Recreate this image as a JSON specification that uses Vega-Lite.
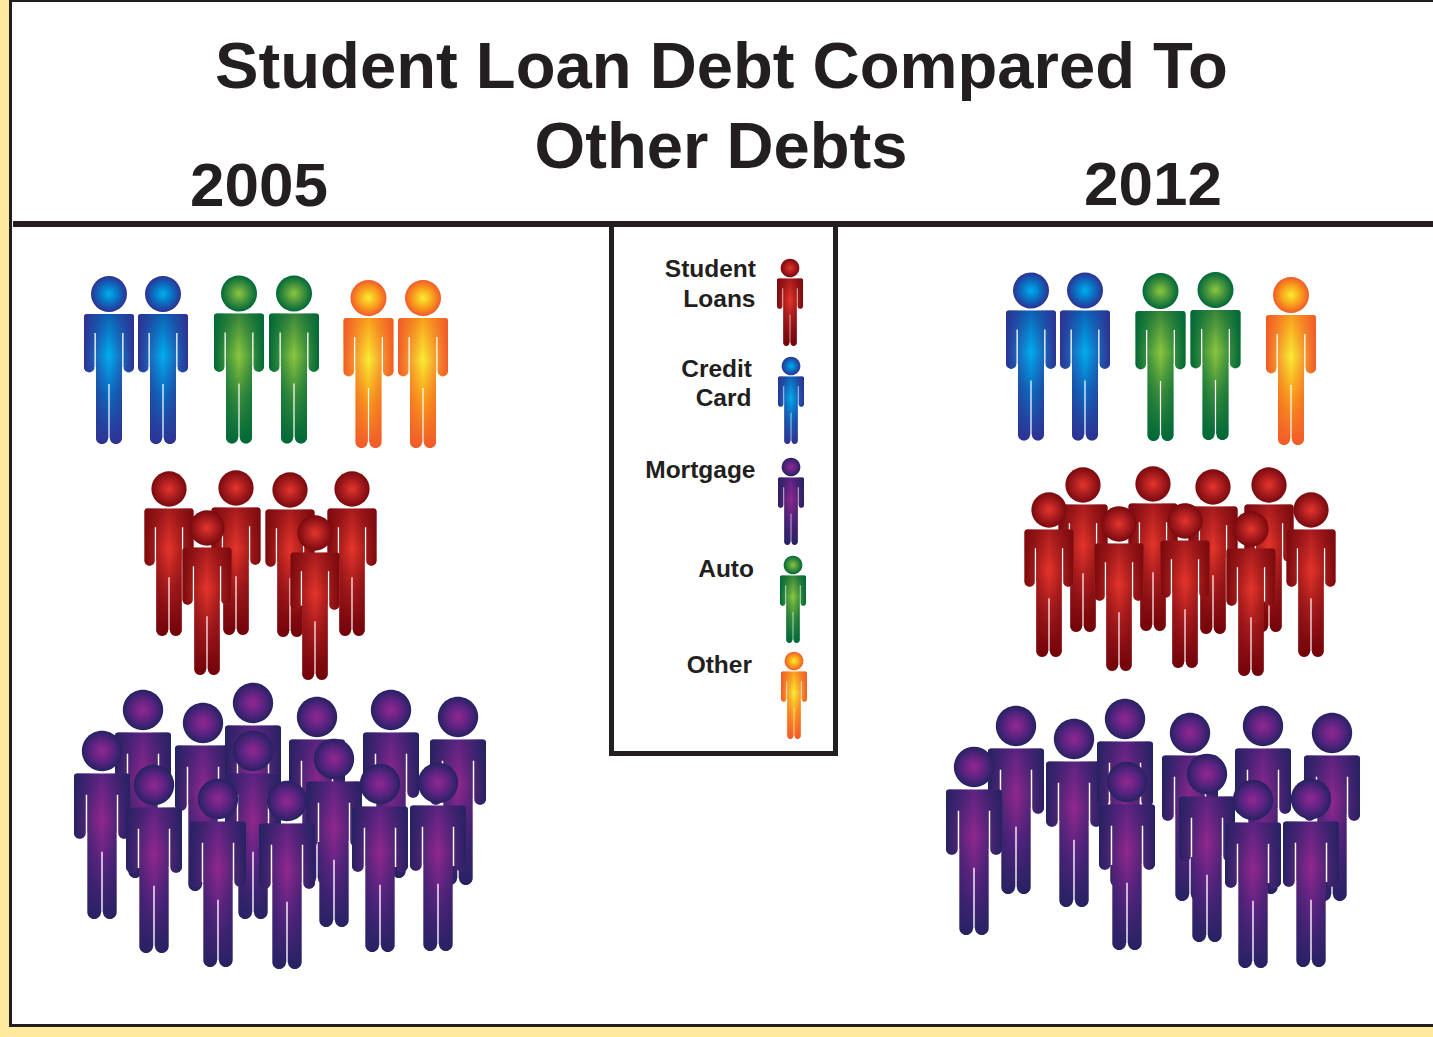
{
  "$schema": "https://vega.github.io/schema/vega-lite/v6.json",
  "width": 1433,
  "height": 1037,
  "padding": 0,
  "autosize": {"type": "fit", "contains": "padding"},
  "background": "#FFEA9F",
  "view": {"stroke": null},
  "encoding": {
    "x": {"field": "x", "type": "quantitative", "axis": null, "scale": {"domain": [0, 1433], "nice": false, "zero": false}},
    "y": {"field": "y", "type": "quantitative", "axis": null, "scale": {"domain": [1037, 0], "nice": false, "zero": false}}
  },
  "layer": [
    {
      "data": {"values": [{"x": 11, "x2": 1433, "y": 1, "y2": 1025}]},
      "mark": {"type": "rect", "fill": "#ffffff"},
      "encoding": {"x2": {"field": "x2"}, "y2": {"field": "y2"}}
    },
    {
      "data": {"values": [
        {"name": "frame left", "x": 9, "x2": 12, "y": 0, "y2": 1027},
        {"name": "frame top", "x": 9, "x2": 1433, "y": 0, "y2": 2},
        {"name": "frame bottom", "x": 9, "x2": 1433, "y": 1024, "y2": 1027},
        {"name": "divider", "x": 13, "x2": 1433, "y": 221, "y2": 227},
        {"name": "key left", "x": 609, "x2": 614, "y": 224, "y2": 756},
        {"name": "key right", "x": 833, "x2": 838, "y": 224, "y2": 756},
        {"name": "key bottom", "x": 609, "x2": 838, "y": 751, "y2": 756}
      ]},
      "mark": {"type": "rect", "fill": "#231F20"},
      "encoding": {"x2": {"field": "x2"}, "y2": {"field": "y2"}}
    },
    {
      "data": {"values": [
        {"x": 721.5, "y": 88, "label": "Student Loan Debt Compared To"},
        {"x": 721, "y": 168, "label": "Other Debts"}
      ]},
      "mark": {"type": "text", "font": "Liberation Sans", "fontWeight": "bold", "fontSize": 65.2, "align": "center", "baseline": "alphabetic", "fill": "#231F20"},
      "encoding": {"text": {"field": "label"}}
    },
    {
      "data": {"values": [
        {"x": 259, "y": 205.5, "label": "2005"},
        {"x": 1153, "y": 204.5, "label": "2012"}
      ]},
      "mark": {"type": "text", "font": "Liberation Sans", "fontWeight": "bold", "fontSize": 62, "align": "center", "baseline": "alphabetic", "fill": "#231F20"},
      "encoding": {"text": {"field": "label"}}
    },
    {
      "data": {"values": [
        {"x": 756, "y": 277, "label": "Student"},
        {"x": 755.5, "y": 307, "label": "Loans"},
        {"x": 752, "y": 377, "label": "Credit"},
        {"x": 751.5, "y": 406, "label": "Card"},
        {"x": 755.5, "y": 478, "label": "Mortgage"},
        {"x": 754, "y": 577, "label": "Auto"},
        {"x": 752, "y": 673, "label": "Other"}
      ]},
      "mark": {"type": "text", "font": "Liberation Sans", "fontWeight": "bold", "fontSize": 24.5, "align": "right", "baseline": "alphabetic", "fill": "#231F20"},
      "encoding": {"text": {"field": "label"}}
    },
    {
      "data": {"values": [
        {"year": "2005", "debt": "Credit Card", "x": 109, "y": 294, "part": ["body", "shade", "gap", "head"]},
        {"year": "2005", "debt": "Credit Card", "x": 163, "y": 294, "part": ["body", "shade", "gap", "head"]},
        {"year": "2005", "debt": "Auto", "x": 239, "y": 293.5, "part": ["body", "shade", "gap", "head"]},
        {"year": "2005", "debt": "Auto", "x": 294, "y": 293.5, "part": ["body", "shade", "gap", "head"]},
        {"year": "2005", "debt": "Other", "x": 368.5, "y": 298, "part": ["body", "shade", "gap", "head"]},
        {"year": "2005", "debt": "Other", "x": 423, "y": 298, "part": ["body", "shade", "gap", "head"]},

        {"year": "2005", "debt": "Student Loans", "x": 169, "y": 489, "part": ["body", "shade", "gap", "head"]},
        {"year": "2005", "debt": "Student Loans", "x": 236, "y": 488, "part": ["body", "shade", "gap", "head"]},
        {"year": "2005", "debt": "Student Loans", "x": 290, "y": 490, "part": ["body", "shade", "gap", "head"]},
        {"year": "2005", "debt": "Student Loans", "x": 352, "y": 489, "part": ["body", "shade", "gap", "head"]},
        {"year": "2005", "debt": "Student Loans", "x": 207, "y": 528, "part": ["body", "shade", "gap", "head"]},
        {"year": "2005", "debt": "Student Loans", "x": 315, "y": 533, "part": ["body", "shade", "gap", "head"]},

        {"year": "2005", "debt": "Mortgage", "x": 143, "y": 710, "part": ["body", "shade", "gap", "head"]},
        {"year": "2005", "debt": "Mortgage", "x": 203, "y": 723, "part": ["body", "shade", "gap", "head"]},
        {"year": "2005", "debt": "Mortgage", "x": 253, "y": 703, "part": ["body", "shade", "gap", "head"]},
        {"year": "2005", "debt": "Mortgage", "x": 317, "y": 717, "part": ["body", "shade", "gap", "head"]},
        {"year": "2005", "debt": "Mortgage", "x": 391, "y": 710, "part": ["body", "shade", "gap", "head"]},
        {"year": "2005", "debt": "Mortgage", "x": 458, "y": 717, "part": ["body", "shade", "gap", "head"]},
        {"year": "2005", "debt": "Mortgage", "x": 102, "y": 751, "part": ["body", "shade", "gap", "head"]},
        {"year": "2005", "debt": "Mortgage", "x": 253, "y": 751, "part": ["body", "shade", "gap", "head"]},
        {"year": "2005", "debt": "Mortgage", "x": 334, "y": 759, "part": ["body", "shade", "gap", "head"]},
        {"year": "2005", "debt": "Mortgage", "x": 154, "y": 785, "part": ["body", "shade", "gap", "head"]},
        {"year": "2005", "debt": "Mortgage", "x": 218, "y": 799, "part": ["body", "shade", "gap", "head"]},
        {"year": "2005", "debt": "Mortgage", "x": 287, "y": 801, "part": ["body", "shade", "gap", "head"]},
        {"year": "2005", "debt": "Mortgage", "x": 380, "y": 784, "part": ["body", "shade", "gap", "head"]},
        {"year": "2005", "debt": "Mortgage", "x": 438, "y": 783, "part": ["body", "shade", "gap", "head"]},

        {"year": "2012", "debt": "Credit Card", "x": 1031, "y": 290.5, "part": ["body", "shade", "gap", "head"]},
        {"year": "2012", "debt": "Credit Card", "x": 1085, "y": 290.5, "part": ["body", "shade", "gap", "head"]},
        {"year": "2012", "debt": "Auto", "x": 1160.5, "y": 291, "part": ["body", "shade", "gap", "head"]},
        {"year": "2012", "debt": "Auto", "x": 1215.5, "y": 290, "part": ["body", "shade", "gap", "head"]},
        {"year": "2012", "debt": "Other", "x": 1291, "y": 295, "part": ["body", "shade", "gap", "head"]},

        {"year": "2012", "debt": "Student Loans", "x": 1083, "y": 485, "part": ["body", "shade", "gap", "head"]},
        {"year": "2012", "debt": "Student Loans", "x": 1153, "y": 484, "part": ["body", "shade", "gap", "head"]},
        {"year": "2012", "debt": "Student Loans", "x": 1213, "y": 487, "part": ["body", "shade", "gap", "head"]},
        {"year": "2012", "debt": "Student Loans", "x": 1269, "y": 485, "part": ["body", "shade", "gap", "head"]},
        {"year": "2012", "debt": "Student Loans", "x": 1049, "y": 510, "part": ["body", "shade", "gap", "head"]},
        {"year": "2012", "debt": "Student Loans", "x": 1311, "y": 510, "part": ["body", "shade", "gap", "head"]},
        {"year": "2012", "debt": "Student Loans", "x": 1119, "y": 524, "part": ["body", "shade", "gap", "head"]},
        {"year": "2012", "debt": "Student Loans", "x": 1185, "y": 521, "part": ["body", "shade", "gap", "head"]},
        {"year": "2012", "debt": "Student Loans", "x": 1251, "y": 529, "part": ["body", "shade", "gap", "head"]},

        {"year": "2012", "debt": "Mortgage", "x": 1016, "y": 726, "part": ["body", "shade", "gap", "head"]},
        {"year": "2012", "debt": "Mortgage", "x": 1074, "y": 739, "part": ["body", "shade", "gap", "head"]},
        {"year": "2012", "debt": "Mortgage", "x": 1125, "y": 719, "part": ["body", "shade", "gap", "head"]},
        {"year": "2012", "debt": "Mortgage", "x": 1190, "y": 733, "part": ["body", "shade", "gap", "head"]},
        {"year": "2012", "debt": "Mortgage", "x": 1263, "y": 726, "part": ["body", "shade", "gap", "head"]},
        {"year": "2012", "debt": "Mortgage", "x": 1332, "y": 733, "part": ["body", "shade", "gap", "head"]},
        {"year": "2012", "debt": "Mortgage", "x": 974, "y": 767, "part": ["body", "shade", "gap", "head"]},
        {"year": "2012", "debt": "Mortgage", "x": 1127, "y": 782, "part": ["body", "shade", "gap", "head"]},
        {"year": "2012", "debt": "Mortgage", "x": 1207, "y": 774, "part": ["body", "shade", "gap", "head"]},
        {"year": "2012", "debt": "Mortgage", "x": 1253, "y": 800, "part": ["body", "shade", "gap", "head"]},
        {"year": "2012", "debt": "Mortgage", "x": 1311, "y": 799, "part": ["body", "shade", "gap", "head"]},

        {"year": "Key", "debt": "Student Loans", "x": 790, "y": 268, "part": ["body", "shade", "gap", "head"]},
        {"year": "Key", "debt": "Credit Card", "x": 791, "y": 366, "part": ["body", "shade", "gap", "head"]},
        {"year": "Key", "debt": "Mortgage", "x": 791, "y": 467, "part": ["body", "shade", "gap", "head"]},
        {"year": "Key", "debt": "Auto", "x": 793, "y": 565, "part": ["body", "shade", "gap", "head"]},
        {"year": "Key", "debt": "Other", "x": 794, "y": 661, "part": ["body", "shade", "gap", "head"]}
      ]},
      "transform": [{"flatten": ["part"]}],
      "mark": {"type": "point", "filled": true, "opacity": 1, "strokeWidth": 0},
      "encoding": {
        "shape": {
          "field": "part",
          "type": "nominal",
          "legend": null,
          "scale": {
            "domain": ["body", "shade", "gap", "head"],
            "range": [
              "M-22,20H22Q25,20 25,23V73A5.25,5.25 0 0 1 14.5,73H13V144A6.05,6.05 0 0 1 0.9,144H-0.9A6.05,6.05 0 0 1 -13,144V73H-14.5A5.25,5.25 0 0 1 -25,73V23Q-25,20 -22,20Z",
              "M-22,20H22Q25,20 25,23V73A5.25,5.25 0 0 1 14.5,73H13V144A6.05,6.05 0 0 1 0.9,144H-0.9A6.05,6.05 0 0 1 -13,144V73H-14.5A5.25,5.25 0 0 1 -25,73V23Q-25,20 -22,20Z",
              "M13.2,39H14.5V74H13.2ZM-14.5,39H-13.2V74H-14.5ZM-0.6,90H0.6V146H-0.6Z",
              "M-18,0A18,18 0 1 1 18,0A18,18 0 1 1 -18,0Z"
            ]
          }
        },
        "size": {
          "condition": [
            {"test": "datum.year === 'Key'", "value": 1.08},
            {"test": "datum.debt === 'Mortgage'", "value": 5.02},
            {"test": "datum.debt === 'Student Loans'", "value": 3.84}
          ],
          "value": 4
        },
        "fill": {
          "condition": [
            {"test": "datum.part === 'head' && datum.debt === 'Credit Card'", "value": {"gradient": "radial", "x1": 0.5, "y1": 0.5, "r1": 0, "x2": 0.5, "y2": 0.5, "r2": 0.5, "stops": [{"offset": 0, "color": "#00AEEF"}, {"offset": 0.55, "color": "#0B6CBF"}, {"offset": 1, "color": "#2E3192"}]}},
            {"test": "datum.part === 'head' && datum.debt === 'Auto'", "value": {"gradient": "radial", "x1": 0.5, "y1": 0.5, "r1": 0, "x2": 0.5, "y2": 0.5, "r2": 0.5, "stops": [{"offset": 0, "color": "#8DC63F"}, {"offset": 0.55, "color": "#3F8F3C"}, {"offset": 1, "color": "#006838"}]}},
            {"test": "datum.part === 'head' && datum.debt === 'Other'", "value": {"gradient": "radial", "x1": 0.5, "y1": 0.5, "r1": 0, "x2": 0.5, "y2": 0.5, "r2": 0.5, "stops": [{"offset": 0, "color": "#F9ED32"}, {"offset": 0.55, "color": "#F9A01B"}, {"offset": 1, "color": "#F15A29"}]}},
            {"test": "datum.part === 'head' && datum.debt === 'Student Loans'", "value": {"gradient": "radial", "x1": 0.5, "y1": 0.5, "r1": 0, "x2": 0.5, "y2": 0.5, "r2": 0.5, "stops": [{"offset": 0, "color": "#E5352B"}, {"offset": 0.55, "color": "#A81C1E"}, {"offset": 1, "color": "#7A0A0E"}]}},
            {"test": "datum.part === 'head' && datum.debt === 'Mortgage'", "value": {"gradient": "radial", "x1": 0.5, "y1": 0.5, "r1": 0, "x2": 0.5, "y2": 0.5, "r2": 0.5, "stops": [{"offset": 0, "color": "#92278F"}, {"offset": 0.55, "color": "#5C2382"}, {"offset": 1, "color": "#262262"}]}},

            {"test": "datum.part === 'body' && datum.debt === 'Credit Card'", "value": {"gradient": "linear", "x1": 0, "y1": 0, "x2": 0, "y2": 1, "stops": [{"offset": 0, "color": "#0A63B5"}, {"offset": 0.32, "color": "#00AEEF"}, {"offset": 0.62, "color": "#0B6CBF"}, {"offset": 1, "color": "#2E3192"}]}},
            {"test": "datum.part === 'body' && datum.debt === 'Auto'", "value": {"gradient": "linear", "x1": 0, "y1": 0, "x2": 0, "y2": 1, "stops": [{"offset": 0, "color": "#38853A"}, {"offset": 0.32, "color": "#8DC63F"}, {"offset": 0.62, "color": "#3F8F3C"}, {"offset": 1, "color": "#006838"}]}},
            {"test": "datum.part === 'body' && datum.debt === 'Other'", "value": {"gradient": "linear", "x1": 0, "y1": 0, "x2": 0, "y2": 1, "stops": [{"offset": 0, "color": "#F9A01B"}, {"offset": 0.32, "color": "#F9ED32"}, {"offset": 0.62, "color": "#F9A01B"}, {"offset": 1, "color": "#F15A29"}]}},
            {"test": "datum.part === 'body' && datum.debt === 'Student Loans'", "value": {"gradient": "linear", "x1": 0, "y1": 0, "x2": 0, "y2": 1, "stops": [{"offset": 0, "color": "#A81C1E"}, {"offset": 0.32, "color": "#E5352B"}, {"offset": 0.62, "color": "#A81C1E"}, {"offset": 1, "color": "#6E0006"}]}},
            {"test": "datum.part === 'body' && datum.debt === 'Mortgage'", "value": {"gradient": "linear", "x1": 0, "y1": 0, "x2": 0, "y2": 1, "stops": [{"offset": 0, "color": "#5C2382"}, {"offset": 0.32, "color": "#92278F"}, {"offset": 0.62, "color": "#5C2382"}, {"offset": 1, "color": "#262262"}]}},

            {"test": "datum.part === 'shade' && datum.debt === 'Credit Card'", "value": {"gradient": "linear", "x1": 0, "y1": 0, "x2": 1, "y2": 0, "stops": [{"offset": 0, "color": "rgba(46,49,146,1)"}, {"offset": 0.26, "color": "rgba(46,49,146,0.5)"}, {"offset": 0.5, "color": "rgba(46,49,146,0)"}, {"offset": 0.74, "color": "rgba(46,49,146,0.5)"}, {"offset": 1, "color": "rgba(46,49,146,1)"}]}},
            {"test": "datum.part === 'shade' && datum.debt === 'Auto'", "value": {"gradient": "linear", "x1": 0, "y1": 0, "x2": 1, "y2": 0, "stops": [{"offset": 0, "color": "rgba(0,104,56,1)"}, {"offset": 0.26, "color": "rgba(0,104,56,0.5)"}, {"offset": 0.5, "color": "rgba(0,104,56,0)"}, {"offset": 0.74, "color": "rgba(0,104,56,0.5)"}, {"offset": 1, "color": "rgba(0,104,56,1)"}]}},
            {"test": "datum.part === 'shade' && datum.debt === 'Other'", "value": {"gradient": "linear", "x1": 0, "y1": 0, "x2": 1, "y2": 0, "stops": [{"offset": 0, "color": "rgba(241,90,41,1)"}, {"offset": 0.26, "color": "rgba(241,90,41,0.5)"}, {"offset": 0.5, "color": "rgba(241,90,41,0)"}, {"offset": 0.74, "color": "rgba(241,90,41,0.5)"}, {"offset": 1, "color": "rgba(241,90,41,1)"}]}},
            {"test": "datum.part === 'shade' && datum.debt === 'Student Loans'", "value": {"gradient": "linear", "x1": 0, "y1": 0, "x2": 1, "y2": 0, "stops": [{"offset": 0, "color": "rgba(122,10,14,1)"}, {"offset": 0.26, "color": "rgba(122,10,14,0.5)"}, {"offset": 0.5, "color": "rgba(122,10,14,0)"}, {"offset": 0.74, "color": "rgba(122,10,14,0.5)"}, {"offset": 1, "color": "rgba(122,10,14,1)"}]}},
            {"test": "datum.part === 'shade' && datum.debt === 'Mortgage'", "value": {"gradient": "linear", "x1": 0, "y1": 0, "x2": 1, "y2": 0, "stops": [{"offset": 0, "color": "rgba(38,34,98,1)"}, {"offset": 0.26, "color": "rgba(38,34,98,0.5)"}, {"offset": 0.5, "color": "rgba(38,34,98,0)"}, {"offset": 0.74, "color": "rgba(38,34,98,0.5)"}, {"offset": 1, "color": "rgba(38,34,98,1)"}]}}
          ],
          "value": "#ffffff"
        }
      }
    }
  ]
}
